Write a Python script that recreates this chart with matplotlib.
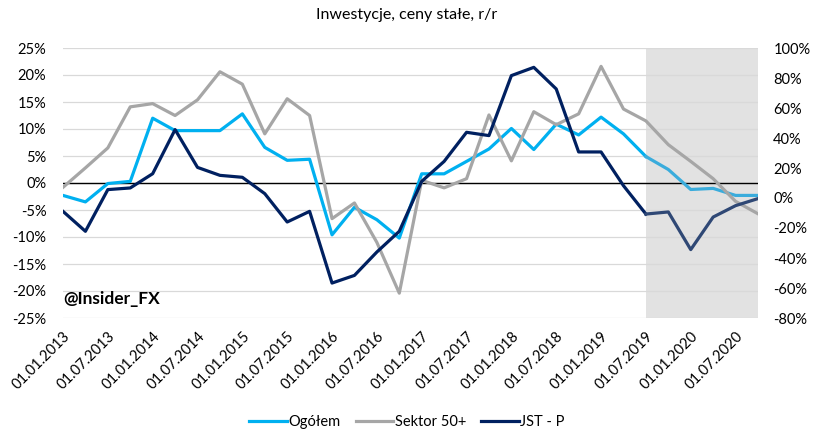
import matplotlib
matplotlib.use('Agg')
import matplotlib.pyplot as plt
from matplotlib.lines import Line2D
from matplotlib.ticker import FuncFormatter

plt.rcParams['font.family'] = ['Lato', 'DejaVu Sans']

# quarterly dates 01.01.2013 .. 01.10.2020
quarters = ['01.%02d.%d' % (m, y) for y in range(2013, 2021) for m in (1, 4, 7, 10)]

# Ogółem, left axis (%)
ogolem = [-2.3, -3.5, -0.1, 0.3, 12.0, 9.7, 9.7, 9.7, 12.8, 6.6, 4.2, 4.4,
          -9.6, -4.5, -6.8, -10.2, 1.7, 1.7, 4.0, 6.3, 10.1, 6.2, 10.9, 8.9,
          12.2, 9.1, 4.9, 2.5, -1.2, -1.0, -2.3, -2.3]
# Sektor 50+, left axis (%)
sektor50 = [-0.8, 2.8, 6.5, 14.1, 14.7, 12.5, 15.4, 20.6, 18.3, 9.1, 15.6, 12.5,
            -6.6, -3.7, -11.0, -20.4, 0.5, -0.9, 0.8, 12.6, 4.1, 13.2, 10.8, 12.8,
            21.6, 13.7, 11.5, 7.1, 4.0, 0.8, -3.4, -5.7]
# JST - P, right axis (%)
jst = [-8.9, -22.2, 5.6, 6.7, 16.2, 45.6, 20.4, 15.1, 13.8, 2.9, -16.0, -8.9,
       -56.7, -51.6, -36.0, -22.2, 11.1, 24.4, 43.8, 41.6, 81.6, 87.1, 72.7, 30.7,
       30.7, 8.2, -10.7, -9.3, -34.4, -12.7, -5.1, -0.4]

forecast_start = 26  # 01.07.2019

x = list(range(len(quarters)))
fc = x[forecast_start:]

fig = plt.figure(figsize=(8.14, 4.43), dpi=100)
ax = fig.add_axes([63 / 814, 1 - 318 / 443, 695 / 814, 270 / 443])
ax2 = ax.twinx()

ax.axvspan(forecast_start, len(x) - 1, color='#E2E2E2', lw=0, zorder=0)
for v in range(-25, 30, 5):
    ax.axhline(v, color='#D9D9D9', lw=0.9, zorder=1)
ax.axhline(0, color='black', lw=1.0, zorder=2)

lw = 2.3
ax.plot(x[:forecast_start + 1], ogolem[:forecast_start + 1], color='#00B0F0', lw=lw, zorder=3)
ax.plot(fc, ogolem[forecast_start:], color='#3AACDC', lw=lw, zorder=3)
ax.plot(x, sektor50, color='#A6A6A6', lw=lw, zorder=4)
ax2.plot(x[:forecast_start + 1], jst[:forecast_start + 1], color='#002060', lw=lw, zorder=3)
ax2.plot(fc, jst[forecast_start:], color='#2F4875', lw=lw, zorder=3)

ax.set_xlim(0, len(x) - 1)
ax.set_ylim(-25, 25)
ax2.set_ylim(-80, 100)
ax.set_yticks(range(-25, 30, 5))
ax2.set_yticks(range(-80, 120, 20))
pct = FuncFormatter(lambda v, p: '%d%%' % v)
ax.yaxis.set_major_formatter(pct)
ax2.yaxis.set_major_formatter(pct)

ax.set_xticks(x[::2])
ax.set_xticklabels(quarters[::2], rotation=45, ha='right', rotation_mode='anchor')

for a in (ax, ax2):
    for s in a.spines.values():
        s.set_visible(False)
    a.tick_params(length=0, labelsize=10.5, colors='black')
ax.tick_params(axis='y', pad=12)
ax2.tick_params(axis='y', pad=11)
ax.tick_params(axis='x', pad=8)

fig.text(0.5, 1 - 15 / 443, 'Inwestycje, ceny stałe, r/r', ha='center', va='center', fontsize=11.5)
ax.text(0.0, 0.07, '@Insider_FX', transform=ax.transAxes, fontsize=12.5,
        fontweight='bold', ha='left', va='center')

handles = [Line2D([], [], color='#00B0F0', lw=lw),
           Line2D([], [], color='#A6A6A6', lw=lw),
           Line2D([], [], color='#002060', lw=lw)]
fig.legend(handles, ['Ogółem', 'Sektor 50+', 'JST - P'], loc='center',
           bbox_to_anchor=(0.5, 1 - 422 / 443), ncol=3, frameon=False,
           fontsize=10.5, handlelength=2.6, handletextpad=0.1, columnspacing=1.0)

fig.savefig('out.png', dpi=100)
